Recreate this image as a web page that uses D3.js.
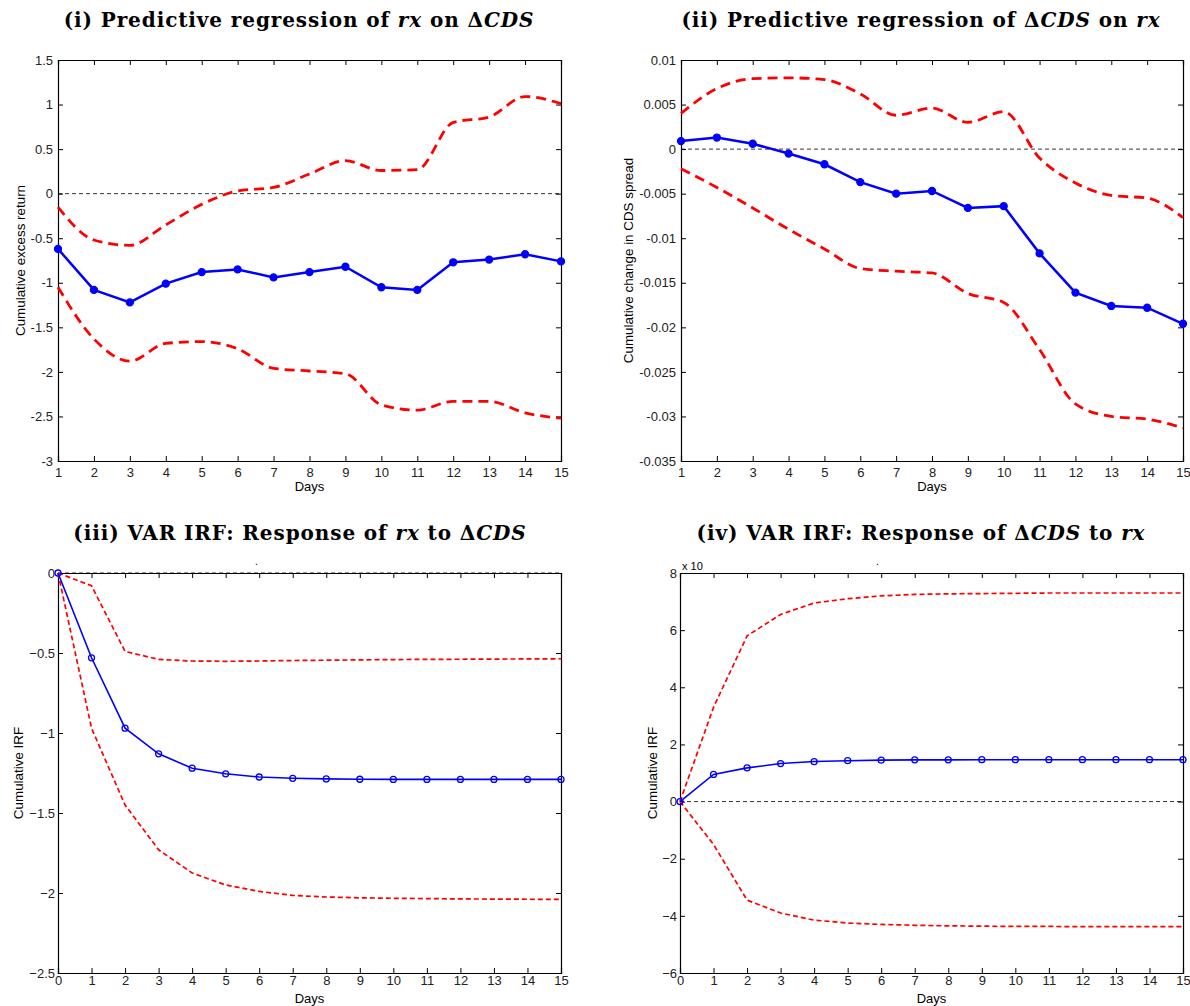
<!DOCTYPE html>
<html>
<head>
<meta charset="utf-8">
<script src="https://cdn.jsdelivr.net/npm/d3@7"></script>
<style>
  body { margin: 0; background: #fff; }
  text { font-family: "Liberation Sans", Arial, sans-serif; }
  .title { font-family: "DejaVu Serif", "Liberation Serif", serif; font-weight: bold; font-size: 20px; letter-spacing: 0.9px; }
</style>
</head>
<body>
<svg id="chart" width="1190" height="1006"></svg>
<script>
// ---- data ----
let daysReg = d3.range(1, 16);
let daysVar = d3.range(0, 16);

// (i) regression of rx on dCDS
let rxPoint = [-0.62, -1.08, -1.22, -1.01, -0.88, -0.85, -0.94, -0.88, -0.82, -1.05, -1.08, -0.77, -0.74, -0.68, -0.76];
let rxUpper = [-0.15, -0.52, -0.58, -0.35, -0.12, 0.03, 0.07, 0.22, 0.37, 0.26, 0.27, 0.80, 0.86, 1.09, 1.01];
let rxLower = [-1.05, -1.63, -1.88, -1.68, -1.66, -1.74, -1.96, -1.99, -2.02, -2.37, -2.43, -2.33, -2.33, -2.46, -2.52];
let rxTicks = [1.5, 1, 0.5, 0, -0.5, -1, -1.5, -2, -2.5, -3];

// (ii) regression of dCDS on rx
let cdsPoint = [0.0009, 0.0013, 0.0006, -0.0005, -0.0017, -0.0037, -0.0050, -0.0047, -0.0066, -0.0064, -0.0117, -0.0161, -0.0176, -0.0178, -0.0196];
let cdsUpper = [0.0040, 0.0068, 0.0079, 0.0080, 0.0078, 0.0062, 0.0038, 0.0046, 0.0030, 0.0042, -0.0010, -0.0038, -0.0052, -0.0055, -0.0077];
let cdsLower = [-0.0022, -0.0043, -0.0066, -0.0090, -0.0112, -0.0134, -0.0137, -0.0139, -0.0162, -0.0172, -0.0225, -0.0286, -0.0300, -0.0303, -0.0313];
let cdsTicks = [0.01, 0.005, 0, -0.005, -0.01, -0.015, -0.02, -0.025, -0.03, -0.035];

// (iii) VAR IRF rx to dCDS
let irfRx = [0, -0.53, -0.97, -1.13, -1.22, -1.255, -1.275, -1.283, -1.287, -1.289, -1.29, -1.29, -1.29, -1.29, -1.29, -1.29];
let irfRxUpper = [0, -0.08, -0.49, -0.54, -0.55, -0.552, -0.55, -0.547, -0.545, -0.543, -0.541, -0.54, -0.539, -0.538, -0.537, -0.536];
let irfRxLower = [0, -0.97, -1.45, -1.73, -1.875, -1.95, -1.99, -2.015, -2.025, -2.03, -2.033, -2.035, -2.037, -2.038, -2.039, -2.04];
let irfRxTicks = [0, -0.5, -1, -1.5, -2, -2.5];

// (iv) VAR IRF dCDS to rx (x 10^-4)
let irfCds = [0, 0.95, 1.18, 1.33, 1.40, 1.43, 1.45, 1.46, 1.46, 1.465, 1.465, 1.465, 1.465, 1.465, 1.465, 1.465];
let irfCdsUpper = [0, 3.3, 5.8, 6.55, 6.95, 7.1, 7.2, 7.25, 7.27, 7.28, 7.29, 7.3, 7.3, 7.3, 7.3, 7.3];
let irfCdsLower = [0, -1.5, -3.45, -3.9, -4.15, -4.25, -4.3, -4.33, -4.35, -4.36, -4.37, -4.37, -4.38, -4.38, -4.38, -4.38];
let irfCdsTicks = [8, 6, 4, 2, 0, -2, -4, -6];

let svg = d3.select("#chart");

// рисуем одну панель
let drawPanel = (opt) => {
  let x = d3.scaleLinear().domain(opt.xDomain).range([opt.left, opt.right]);
  let y = d3.scaleLinear().domain(opt.yDomain).range([opt.bottom, opt.top]);
  let g = svg.append("g");

  // title
  let t = g.append("text").attr("class", "title")
    .attr("x", opt.titleX).attr("y", opt.top - 33)
    .attr("text-anchor", "middle");
  opt.title.forEach(p => {
    let s = t.append("tspan").text(p.t);
    if (p.i) s.style("font-style", "italic");
  });

  // zero line
  g.append("line")
    .attr("x1", opt.left).attr("x2", opt.right)
    .attr("y1", y(0)).attr("y2", y(0))
    .attr("stroke", "#000").attr("stroke-width", 0.8)
    .attr("stroke-dasharray", "4,3");

  // axes (box with inward ticks)
  let fmt = opt.fmt;
  g.append("g").attr("transform", `translate(0,${opt.bottom})`)
    .call(d3.axisBottom(x).tickValues(opt.xTicks).tickSize(-5).tickPadding(opt.hpad).tickFormat(d3.format("d")));
  g.append("g").attr("transform", `translate(0,${opt.top})`)
    .call(d3.axisTop(x).tickValues(opt.xTicks).tickSize(-5).tickFormat(""));
  g.append("g").attr("transform", `translate(${opt.left},0)`)
    .call(d3.axisLeft(y).tickValues(opt.yTicks).tickSize(-5).tickPadding(opt.vpad).tickFormat(fmt));
  g.append("g").attr("transform", `translate(${opt.right},0)`)
    .call(d3.axisRight(y).tickValues(opt.yTicks).tickSize(-5).tickFormat(""));
  g.selectAll(".domain").attr("stroke", "#000").attr("stroke-width", 1.2);
  g.selectAll(".tick line").attr("stroke", "#000");
  g.selectAll(".tick text").attr("font-size", 13).attr("fill", "#222")
    .style("font-family", "Liberation Sans, Arial, sans-serif");

  // labels
  g.append("text").attr("x", (opt.left + opt.right) / 2).attr("y", opt.bottom + 30)
    .attr("text-anchor", "middle").attr("font-size", 13).text("Days");
  g.append("text")
    .attr("transform", `translate(${opt.ylabX},${(opt.top + opt.bottom) / 2}) rotate(-90)`)
    .attr("text-anchor", "middle").attr("font-size", 13.4).text(opt.ylab);

  let clip = "clip" + opt.id;
  svg.append("clipPath").attr("id", clip).append("rect")
    .attr("x", opt.left - 6).attr("y", opt.top - 6)
    .attr("width", opt.right - opt.left + 12).attr("height", opt.bottom - opt.top + 12);
  let plot = g.append("g").attr("clip-path", `url(#${clip})`);

  let lineRed = d3.line().x((d, i) => x(opt.days[i])).y(d => y(d))
    .curve(opt.smooth ? d3.curveMonotoneX : d3.curveLinear);
  let lineBlue = d3.line().x((d, i) => x(opt.days[i])).y(d => y(d));

  [opt.upper, opt.lower].forEach(s => {
    plot.append("path").attr("d", lineRed(s)).attr("fill", "none")
      .attr("stroke", "#ff0000").attr("stroke-width", opt.redW)
      .attr("stroke-dasharray", opt.redDash);
  });
  plot.append("path").attr("d", lineBlue(opt.point)).attr("fill", "none")
    .attr("stroke", "#0000ff").attr("stroke-width", opt.blueW);
  plot.selectAll("circle").data(opt.point).join("circle")
    .attr("cx", (d, i) => x(opt.days[i])).attr("cy", d => y(d))
    .attr("r", opt.r)
    .attr("fill", opt.filled ? "#0000ff" : "none")
    .attr("stroke", "#0000ff").attr("stroke-width", 1.3);
  return { x, y };
};

let fmtHyphen = d => String(d);

drawPanel({
  id: 1, left: 58, right: 561, top: 60, bottom: 461, titleX: 299,
  title: [{t: "(i) Predictive regression of "}, {t: "rx", i: true}, {t: " on Δ"}, {t: "CDS", i: true}],
  xDomain: [1, 15], yDomain: [-3, 1.5], xTicks: daysReg, yTicks: rxTicks, fmt: fmtHyphen,
  hpad: 7, vpad: 5,
  days: daysReg, point: rxPoint, upper: rxUpper, lower: rxLower, smooth: true,
  redW: 2.8, redDash: "10,6", blueW: 2.5, r: 3.5, filled: true,
  ylab: "Cumulative excess return", ylabX: 25
});

drawPanel({
  id: 2, left: 681, right: 1183, top: 60, bottom: 461, titleX: 921,
  title: [{t: "(ii) Predictive regression of Δ"}, {t: "CDS", i: true}, {t: " on "}, {t: "rx", i: true}],
  xDomain: [1, 15], yDomain: [-0.035, 0.01], xTicks: daysReg, yTicks: cdsTicks, fmt: fmtHyphen,
  hpad: 7, vpad: 5,
  days: daysReg, point: cdsPoint, upper: cdsUpper, lower: cdsLower, smooth: true,
  redW: 2.8, redDash: "10,6", blueW: 2.5, r: 3.5, filled: true,
  ylab: "Cumulative change in CDS spread", ylabX: 633
});

drawPanel({
  id: 3, left: 58, right: 561, top: 573, bottom: 973, titleX: 300,
  title: [{t: "(iii) VAR IRF: Response of "}, {t: "rx", i: true}, {t: " to Δ"}, {t: "CDS", i: true}],
  xDomain: [0, 15], yDomain: [-2.5, 0], xTicks: daysVar, yTicks: irfRxTicks, fmt: d3.format(""),
  hpad: 3, vpad: 3,
  days: daysVar, point: irfRx, upper: irfRxUpper, lower: irfRxLower, smooth: false,
  redW: 1.7, redDash: "5,3", blueW: 1.6, r: 3, filled: false,
  ylab: "Cumulative IRF", ylabX: 23
});

drawPanel({
  id: 4, left: 680, right: 1183, top: 573, bottom: 973, titleX: 921,
  title: [{t: "(iv) VAR IRF: Response of Δ"}, {t: "CDS", i: true}, {t: " to "}, {t: "rx", i: true}],
  xDomain: [0, 15], yDomain: [-6, 8], xTicks: daysVar, yTicks: irfCdsTicks, fmt: d3.format(""),
  hpad: 3, vpad: 3,
  days: daysVar, point: irfCds, upper: irfCdsUpper, lower: irfCdsLower, smooth: false,
  redW: 1.7, redDash: "5,3", blueW: 1.6, r: 3, filled: false,
  ylab: "Cumulative IRF", ylabX: 657
});

// exponent marker (cut off in the original) and stray title dots
svg.append("text").attr("x", 682).attr("y", 570).attr("font-size", 11).text("x 10");
svg.append("text").attr("x", 255).attr("y", 565).attr("font-size", 10).text(".");
svg.append("text").attr("x", 876).attr("y", 565).attr("font-size", 10).text(".");
</script>
</body>
</html>
